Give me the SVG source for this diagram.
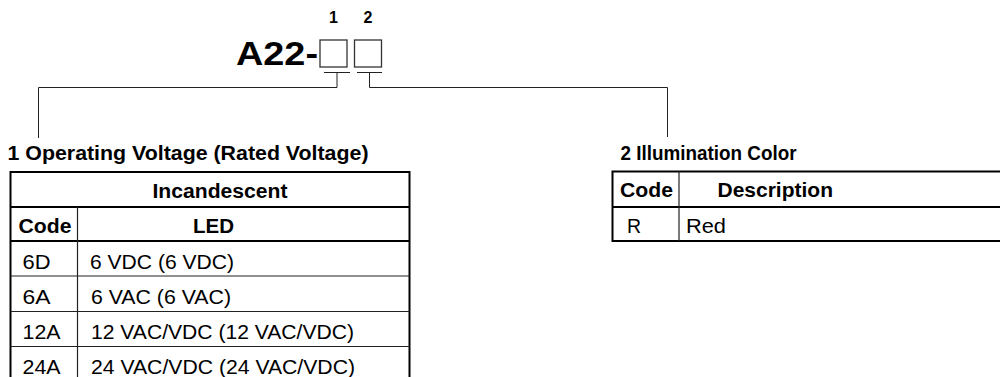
<svg xmlns="http://www.w3.org/2000/svg" width="1000" height="377" viewBox="0 0 1000 377">
<style>
text{font-family:"Liberation Sans",Arial,Helvetica,sans-serif;fill:#000}
.b{font-weight:bold;font-size:19.5px}
.r{font-size:19.5px}
.big{font-weight:bold;font-size:34px}
.num{font-weight:bold;font-size:16px}
.conn{fill:none;stroke:#222;stroke-width:1}
.box{fill:#fff;stroke:#333;stroke-width:1.3}
.outer{fill:#fff;stroke:#000;stroke-width:2}
.thick{stroke:#000;stroke-width:2}
.thin{stroke:#222;stroke-width:1.2}
</style>
<rect width="1000" height="377" fill="#fff"/>
<g id="model-code">
<text class="big" x="236" y="65" textLength="82" lengthAdjust="spacingAndGlyphs">A22-</text>
<rect class="box" x="320" y="40" width="27" height="27"/>
<rect class="box" x="354.5" y="40" width="27" height="27"/>
<text class="num" x="333.5" y="23" text-anchor="middle">1</text>
<text class="num" x="368" y="23" text-anchor="middle">2</text>
</g>
<g id="connectors">
<path class="conn" d="M324,72.5H350M337,72.5V87.5H38.5V138"/>
<path class="conn" d="M357,72.5H382M369.5,72.5V87.5H667.5V137"/>
</g>
<g id="voltage-table">
<text class="b" x="7.5" y="160" textLength="361" lengthAdjust="spacingAndGlyphs">1 Operating Voltage (Rated Voltage)</text>
<rect class="outer" x="10.5" y="172" width="399" height="212"/>
<line class="thick" x1="10.5" y1="207" x2="409.5" y2="207"/>
<line class="thick" x1="10.5" y1="241" x2="409.5" y2="241"/>
<line class="thin" x1="10.5" y1="276" x2="409.5" y2="276"/>
<line class="thin" x1="10.5" y1="311.5" x2="409.5" y2="311.5"/>
<line class="thin" x1="10.5" y1="346.5" x2="409.5" y2="346.5"/>
<line class="thin" x1="77.5" y1="207" x2="77.5" y2="384"/>
<text class="b" x="152.5" y="198" textLength="135" lengthAdjust="spacingAndGlyphs">Incandescent</text>
<text class="b" x="18.5" y="233" textLength="53" lengthAdjust="spacingAndGlyphs">Code</text>
<text class="b" x="193" y="233" textLength="41" lengthAdjust="spacingAndGlyphs">LED</text>
<text class="r" x="22.5" y="269" textLength="28" lengthAdjust="spacingAndGlyphs">6D</text>
<text class="r" x="90" y="269" textLength="144" lengthAdjust="spacingAndGlyphs">6 VDC (6 VDC)</text>
<text class="r" x="22.5" y="304" textLength="28" lengthAdjust="spacingAndGlyphs">6A</text>
<text class="r" x="91" y="304" textLength="140" lengthAdjust="spacingAndGlyphs">6 VAC (6 VAC)</text>
<text class="r" x="22.5" y="339" textLength="38" lengthAdjust="spacingAndGlyphs">12A</text>
<text class="r" x="91" y="339" textLength="263" lengthAdjust="spacingAndGlyphs">12 VAC/VDC (12 VAC/VDC)</text>
<text class="r" x="22.5" y="374" textLength="38" lengthAdjust="spacingAndGlyphs">24A</text>
<text class="r" x="91" y="374" textLength="264" lengthAdjust="spacingAndGlyphs">24 VAC/VDC (24 VAC/VDC)</text>
</g>
<g id="color-table">
<text class="b" x="620.5" y="160" textLength="176" lengthAdjust="spacingAndGlyphs">2 Illumination Color</text>
<rect class="outer" x="612.5" y="171.5" width="400" height="69.5"/>
<line class="thick" x1="612.5" y1="207" x2="1005" y2="207"/>
<line class="thin" x1="679" y1="171.5" x2="679" y2="241"/>
<text class="b" x="620" y="197" textLength="53" lengthAdjust="spacingAndGlyphs">Code</text>
<text class="b" x="717.5" y="197" textLength="115.5" lengthAdjust="spacingAndGlyphs">Description</text>
<text class="r" x="627" y="233">R</text>
<text class="r" x="686" y="233" textLength="40" lengthAdjust="spacingAndGlyphs">Red</text>
</g>
</svg>
